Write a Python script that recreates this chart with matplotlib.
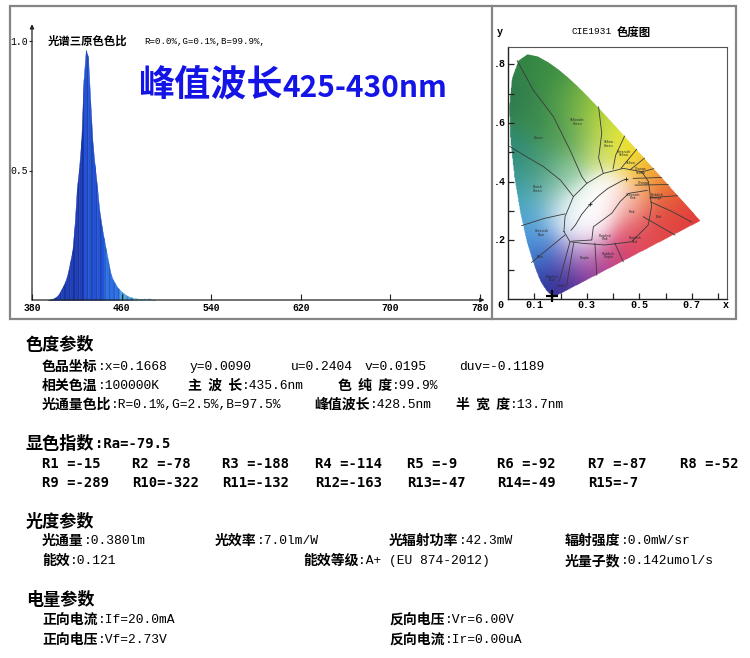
import numpy as np
import matplotlib
matplotlib.use('Agg')
import matplotlib.pyplot as plt
from matplotlib.path import Path
from matplotlib.patches import Polygon, Rectangle
from matplotlib.lines import Line2D
import matplotlib.colors as mcolors

W, H = 750, 658
CJK = ['Noto Sans CJK SC', 'DejaVu Sans']
MONO = ['Liberation Mono', 'DejaVu Sans Mono']
BMONO = ['DejaVu Sans Mono']

# ---------------- data: spectrum ----------------
wavelengths = [394, 396, 398, 400, 402, 404, 406, 408, 410, 412, 414, 416, 418, 420, 422,
               424, 426, 428, 430, 432, 434, 436, 438, 440, 442, 444, 446, 448, 450,
               452, 454, 456, 458, 460, 462, 464, 466, 468, 470, 472, 474, 476, 478,
               480, 482, 484, 486, 488, 490]
intensity = [0.0, 0.002, 0.004, 0.008, 0.014, 0.024, 0.040, 0.056, 0.076, 0.105, 0.148,
             0.190, 0.290, 0.430, 0.510, 0.620, 0.850, 0.965, 0.940, 0.770, 0.610,
             0.520, 0.440, 0.350, 0.290, 0.240, 0.195, 0.150, 0.105, 0.080, 0.065,
             0.050, 0.041, 0.032, 0.025, 0.019, 0.014, 0.011, 0.009, 0.007, 0.006,
             0.005, 0.004, 0.003, 0.003, 0.002, 0.002, 0.001, 0.0]
spec_xticks = [380, 460, 540, 620, 700, 780]
spec_yticks = [0.5, 1.0]
spec_ytick_labels = ['0.5', '1.0']
spec_title = '光谱三原色色比'
spec_ratio = 'R=0.0%,G=0.1%,B=99.9%,'
peak_note_cn = '峰值波长'
peak_note_num = '425-430nm'

# ---------------- data: CIE 1931 ----------------
locus_x = [0.1741, 0.1740, 0.1738, 0.1736, 0.1733, 0.1730, 0.1726, 0.1721, 0.1714,
           0.1703, 0.1689, 0.1669, 0.1644, 0.1611, 0.1566, 0.1510, 0.1440, 0.1355,
           0.1241, 0.1096, 0.0913, 0.0687, 0.0454, 0.0235, 0.0082, 0.0039, 0.0139,
           0.0389, 0.0743, 0.1142, 0.1547, 0.1929, 0.2296, 0.2658, 0.3016, 0.3373,
           0.3731, 0.4087, 0.4441, 0.4788, 0.5125, 0.5448, 0.5752, 0.6029, 0.6270,
           0.6482, 0.6658, 0.6801, 0.6915, 0.7006, 0.7079, 0.7140, 0.7190, 0.7230,
           0.7260, 0.7300, 0.7334, 0.7347]
locus_y = [0.0050, 0.0050, 0.0049, 0.0049, 0.0048, 0.0048, 0.0048, 0.0048, 0.0051,
           0.0058, 0.0069, 0.0086, 0.0109, 0.0138, 0.0177, 0.0227, 0.0297, 0.0399,
           0.0578, 0.0868, 0.1327, 0.2007, 0.2950, 0.4127, 0.5384, 0.6548, 0.7502,
           0.8120, 0.8338, 0.8262, 0.8059, 0.7816, 0.7543, 0.7243, 0.6923, 0.6589,
           0.6245, 0.5896, 0.5547, 0.5202, 0.4866, 0.4544, 0.4242, 0.3965, 0.3725,
           0.3514, 0.3340, 0.3197, 0.3083, 0.2993, 0.2920, 0.2859, 0.2809, 0.2770,
           0.2740, 0.2700, 0.2666, 0.2653]
point_x, point_y = 0.1668, 0.0090
planck_x = [0.2399, 0.2568, 0.2806, 0.3135, 0.3451, 0.3805, 0.4369, 0.4476]
planck_y = [0.2341, 0.2522, 0.2883, 0.3237, 0.3516, 0.3768, 0.4041, 0.4074]

cie_xtick_labels = ['0', '0.1', '0.3', '0.5', '0.7', 'x']
cie_xtick_pos = [-0.03, 0.1, 0.3, 0.5, 0.7, 0.83]
cie_ytick_labels = ['.2', '.4', '.6', '.8']
cie_ytick_pos = [0.2, 0.4, 0.6, 0.8]

# colour anchors of the chromaticity chart (x, y, colour)
anchor_x = [0.02, 0.07, 0.15, 0.10, 0.22, 0.30, 0.20, 0.28, 0.36, 0.42, 0.35, 0.47, 0.52,
            0.56, 0.60, 0.64, 0.70, 0.60, 0.55, 0.47, 0.40, 0.45, 0.50, 0.33, 0.27, 0.22,
            0.175, 0.16, 0.14, 0.10, 0.07, 0.05, 0.04, 0.02, 0.12, 0.14, 0.18, 0.23, 0.30,
            0.22, 0.30, 0.36, 0.26, 0.40, 0.33, 0.24]
anchor_y = [0.70, 0.80, 0.76, 0.62, 0.68, 0.66, 0.56, 0.56, 0.60, 0.54, 0.50, 0.50, 0.46,
            0.42, 0.385, 0.35, 0.28, 0.30, 0.25, 0.21, 0.15, 0.30, 0.35, 0.11, 0.08, 0.04,
            0.02, 0.08, 0.15, 0.20, 0.26, 0.32, 0.40, 0.50, 0.45, 0.35, 0.27, 0.15, 0.17,
            0.42, 0.30, 0.34, 0.25, 0.37, 0.26, 0.30]
anchor_c = ['#2f7a4f', '#338544', '#3f8f45', '#3a8a4f', '#55a048', '#8cc040', '#4f9a55',
            '#7ab55a', '#c8dd3a', '#e6e830', '#c5dc80', '#f2e030', '#f5c830', '#f0a030',
            '#ec7a30', '#e55535', '#e03c3c', '#e04545', '#e04848', '#e04860', '#d04078',
            '#f0a0a0', '#f5b890', '#a03590', '#7a3098', '#4a2e9a', '#2a2a8a', '#3048b0',
            '#3c70c8', '#4c8fd8', '#55a5dd', '#46a8c0', '#3a9a9a', '#2f8a75', '#4a9a70',
            '#7ab8b0', '#a8d0ec', '#9e8ad0', '#e8c8e8', '#8cc8a0', '#ffffff', '#ffffff',
            '#ffffff', '#ffffff', '#ffffff', '#f4fbf8']

# Kelly colour-region boundaries
kelly_lines = [
    [(0.035, 0.812), (0.096, 0.712), (0.173, 0.621), (0.236, 0.508), (0.281, 0.417), (0.30, 0.394)],
    [(0.006, 0.52), (0.07, 0.485), (0.135, 0.451), (0.2, 0.405), (0.249, 0.349)],
    [(0.345, 0.655), (0.357, 0.564), (0.345, 0.48), (0.363, 0.428)],
    [(0.444, 0.555), (0.41, 0.49), (0.40, 0.443)],
    [(0.49, 0.51), (0.43, 0.445)],
    [(0.52, 0.48), (0.465, 0.44)],
    [(0.555, 0.444), (0.505, 0.432)],
    [(0.585, 0.414), (0.477, 0.411)],
    [(0.61, 0.39), (0.484, 0.388)],
    [(0.645, 0.352), (0.54, 0.345)],
    [(0.70, 0.262), (0.62, 0.30), (0.545, 0.33)],
    [(0.636, 0.218), (0.515, 0.28)],
    [(0.439, 0.127), (0.407, 0.19)],
    [(0.338, 0.081), (0.331, 0.19)],
    [(0.223, 0.045), (0.25, 0.19)],
    [(0.09, 0.125), (0.217, 0.218)],
    [(0.052, 0.25), (0.14, 0.275), (0.217, 0.29)],
    [(0.195, 0.06), (0.236, 0.195)],
]
white_outer = [(0.213, 0.23), (0.217, 0.28), (0.249, 0.349), (0.30, 0.394), (0.363, 0.428),
               (0.439, 0.445), (0.509, 0.434), (0.535, 0.40), (0.547, 0.315), (0.534, 0.252),
               (0.471, 0.195), (0.369, 0.184), (0.281, 0.19), (0.236, 0.195), (0.213, 0.23)]
white_inner = [(0.243, 0.197), (0.319, 0.201), (0.325, 0.246), (0.395, 0.292), (0.427, 0.332),
               (0.46, 0.36), (0.53, 0.37)]
region_names = ['Yellowish\nGreen', 'Green', 'Yellow\nGreen', 'Greenish\nYellow', 'Yellow',
                'Orange\nYellow', 'Orange', 'Bluish\nGreen', 'Yellowish\nPink', 'Reddish\nOrange',
                'Pink', 'Red', 'Purplish\nPink', 'Purplish\nRed', 'Greenish\nBlue', 'Blue',
                'Purple', 'Reddish\nPurple', 'Purplish\nBlue', 'Violet']
region_x = [0.264, 0.116, 0.385, 0.443, 0.467, 0.505, 0.518, 0.113, 0.477, 0.566,
            0.471, 0.572, 0.369, 0.484, 0.128, 0.122, 0.291, 0.382, 0.169, 0.204]
region_y = [0.604, 0.547, 0.528, 0.496, 0.464, 0.437, 0.394, 0.375, 0.349, 0.349,
            0.295, 0.281, 0.21, 0.201, 0.224, 0.144, 0.139, 0.148, 0.07, 0.045]

# ---------------- data: report ----------------
cri_names = ['R1', 'R2', 'R3', 'R4', 'R5', 'R6', 'R7', 'R8',
             'R9', 'R10', 'R11', 'R12', 'R13', 'R14', 'R15']
cri_values = [-15, -78, -188, -114, -9, -92, -87, -52,
              -289, -322, -132, -163, -47, -49, -7]

# ---------------- figure ----------------
fig = plt.figure(figsize=(W / 100, H / 100), dpi=100)
fig.patch.set_facecolor('white')

def fx(px):
    return px / W

def fy(py):
    return 1 - py / H

# frame of the top panel
fig.patches.append(Rectangle((fx(10), fy(319)), fx(736) - fx(10), fy(6) - fy(319),
                             transform=fig.transFigure, fill=False,
                             edgecolor='#858585', lw=1.6))
fig.lines.append(Line2D([fx(492), fx(492)], [fy(6), fy(319)], transform=fig.transFigure,
                        color='#858585', lw=1.6))

# ---- spectrum ----
ax1 = fig.add_axes([fx(32), fy(300), fx(480) - fx(32), fy(41) - fy(300)])
ax1.set_xlim(380, 780)
ax1.set_ylim(0, 1.0)
for s in ax1.spines.values():
    s.set_visible(False)

def band_colour(w):
    if w < 426:
        return np.array([0.11, 0.24, 0.74])
    if w < 444:
        return np.array([0.13, 0.32, 0.86])
    if w < 458:
        return np.array([0.17, 0.44, 0.93])
    if w < 470:
        return np.array([0.30, 0.64, 0.92])
    return np.array([0.52, 0.84, 0.93])

for i in range(len(wavelengths) - 1):
    c = band_colour(wavelengths[i]) * (0.84 if i % 2 else 1.0)
    ax1.fill_between(wavelengths[i:i + 2], intensity[i:i + 2], 0,
                     color=np.clip(c, 0, 1), lw=0.3, edgecolor=np.clip(c, 0, 1))
ax1.annotate('', xy=(784, 0), xytext=(380, 0), annotation_clip=False,
             arrowprops=dict(arrowstyle='-|>', color='#222222', lw=0.9, mutation_scale=6,
                             shrinkA=0, shrinkB=0))
ax1.annotate('', xy=(380, 1.065), xytext=(380, 0), annotation_clip=False,
             arrowprops=dict(arrowstyle='-|>', color='#222222', lw=0.9, mutation_scale=6,
                             shrinkA=0, shrinkB=0))
ax1.set_xticks(spec_xticks)
ax1.set_xticklabels([str(t) for t in spec_xticks], family=MONO, fontsize=7, weight='bold')
ax1.set_yticks(spec_yticks)
ax1.set_yticklabels(spec_ytick_labels, family=MONO, fontsize=7)
ax1.tick_params(axis='x', direction='in', length=4, width=0.8, pad=2, color='#222222')
ax1.tick_params(axis='y', direction='out', length=2, width=0.8, pad=1, color='#222222')
ax1.set_facecolor('none')

fig.text(fx(48), fy(41), spec_title, family=CJK, weight='bold', fontsize=8.2,
         va='center', ha='left')
fig.text(fx(144), fy(41), spec_ratio, family=MONO, fontsize=6.6, va='center', ha='left')
t_cn = fig.text(fx(138), fy(86), peak_note_cn, family=CJK, weight='bold', fontsize=26,
                color='#1414e6', va='center', ha='left')
renderer = fig.canvas.get_renderer()
x_num = t_cn.get_window_extent(renderer).x1
fig.text(x_num / W, fy(88), peak_note_num, family=CJK, weight='bold', fontsize=21.5,
         color='#1414e6', va='center', ha='left')

# ---- CIE chart ----
XMAX, YMAX = 0.834, 0.8586
ax2 = fig.add_axes([fx(508), fy(299), fx(727) - fx(508), fy(47) - fy(299)])
ax2.set_xlim(0, XMAX)
ax2.set_ylim(0, YMAX)

nx, ny = 320, 340
gx, gy = np.meshgrid(np.linspace(0, XMAX, nx), np.linspace(0, YMAX, ny))
axa = np.array(anchor_x)
aya = np.array(anchor_y)
acol = np.array([mcolors.to_rgb(c) for c in anchor_c])
d2 = (gx[..., None] - axa) ** 2 + (gy[..., None] - aya) ** 2 + 1e-9
wts = np.exp(-d2 / (2 * 0.055 ** 2)) + 1e-10 / d2
rgb = (wts[..., None] * acol).sum(-2) / wts.sum(-1)[..., None]
locus_path = Path(np.column_stack([locus_x + [locus_x[0]], locus_y + [locus_y[0]]]))
inside = locus_path.contains_points(np.column_stack([gx.ravel(), gy.ravel()])).reshape(gx.shape)
rgba = np.dstack([rgb, inside.astype(float)])
im = ax2.imshow(rgba, extent=[0, XMAX, 0, YMAX], origin='lower', aspect='auto',
                interpolation='bilinear', zorder=1)
clip = Polygon(np.column_stack([locus_x, locus_y]), closed=True, transform=ax2.transData,
               facecolor='none', edgecolor='none')
ax2.add_patch(clip)
im.set_clip_path(clip)

for line in kelly_lines:
    xs, ys = zip(*line)
    ax2.plot(xs, ys, color='#3a3a3a', lw=0.6, zorder=3)
xs, ys = zip(*white_outer)
ax2.plot(xs, ys, color='#3a3a3a', lw=0.6, zorder=3)
xs, ys = zip(*white_inner)
ax2.plot(xs, ys, color='#3a3a3a', lw=0.6, zorder=3)
ax2.plot(planck_x, planck_y, color='#333333', lw=0.6, zorder=3)
ax2.plot([planck_x[3], planck_x[-1]], [planck_y[3], planck_y[-1]], ls='none', marker='+',
         ms=3, mew=0.6, color='#222222', zorder=4)
for n, x, y in zip(region_names, region_x, region_y):
    ax2.text(x, y, n, fontsize=2.3, ha='center', va='center', color='#2a2a2a', zorder=4,
             linespacing=0.9)
ax2.plot(point_x, point_y, marker='+', ms=8, mew=1.6, color='black', zorder=6, clip_on=False)

ax2.set_xticks(np.arange(0.1, 0.81, 0.1))
ax2.set_yticks(np.arange(0.1, 0.81, 0.1))
ax2.set_xticklabels([])
ax2.set_yticklabels([])
ax2.tick_params(direction='in', length=4, width=0.9, color='#222222')
for k, s in ax2.spines.items():
    if k in ('left', 'bottom'):
        s.set_color('#222222')
        s.set_linewidth(1.0)
    else:
        s.set_color('#555555')
        s.set_linewidth(0.8)
for lab, pos in zip(cie_xtick_labels, cie_xtick_pos):
    ax2.text(pos, -0.022, lab, transform=ax2.transData, ha='center', va='center',
             family=MONO, weight='bold', fontsize=7.2)
for lab, pos in zip(cie_ytick_labels, cie_ytick_pos):
    fig.text(fx(506), fy(299 - pos * 293.5), lab, ha='right', va='center',
             family=MONO, weight='bold', fontsize=7.2)
fig.text(fx(497), fy(32), 'y', family=MONO, weight='bold', fontsize=7.2, va='center')
fig.text(fx(572), fy(32), 'CIE1931', family=MONO, fontsize=6.8, va='center')
fig.text(fx(617), fy(32), '色度图', family=CJK, weight='bold', fontsize=8.2, va='center')

# ---- report text ----
STY = {
    'H': dict(family=CJK, weight='bold', fontsize=12.3),
    'L': dict(family=CJK, weight='bold', fontsize=10.0),
    'V': dict(family=MONO, fontsize=9.4),
    'R': dict(family=BMONO, weight='bold', fontsize=10),
}

def chain(px, py, pieces):
    x = px
    for s, st in pieces:
        t = fig.text(x / W, fy(py), s, ha='left', va='center', **STY[st])
        x = t.get_window_extent(renderer).x1

chain(26, 345, [('色度参数', 'H')])
chain(42, 367, [('色品坐标', 'L'), (':x=0.1668', 'V')])
chain(190, 367, [('y=0.0090', 'V')])
chain(291, 367, [('u=0.2404', 'V')])
chain(365, 367, [('v=0.0195', 'V')])
chain(459, 367, [('duv=-0.1189', 'V')])
chain(42, 386, [('相关色温', 'L'), (':100000K', 'V')])
chain(188, 386, [('主  波  长', 'L'), (':435.6nm', 'V')])
chain(338, 386, [('色  纯  度', 'L'), (':99.9%', 'V')])
chain(42, 405, [('光通量色比', 'L'), (':R=0.1%,G=2.5%,B=97.5%', 'V')])
chain(314, 405, [('峰值波长', 'L'), (':428.5nm', 'V')])
chain(456, 405, [('半  宽  度', 'L'), (':13.7nm', 'V')])

chain(26, 444, [('显色指数', 'H'), (':Ra=-79.5', 'R')])
cri_x = [42, 132, 222, 315, 407, 497, 588, 680]
for i, (n, v) in enumerate(zip(cri_names, cri_values)):
    row, col = divmod(i, 8)
    chain(cri_x[col], 464 + row * 19, [(f'{n:<3}={v}', 'R')])

chain(26, 522, [('光度参数', 'H')])
chain(42, 541, [('光通量', 'L'), (':0.380lm', 'V')])
chain(215, 541, [('光效率', 'L'), (':7.0lm/W', 'V')])
chain(389, 541, [('光辐射功率', 'L'), (':42.3mW', 'V')])
chain(565, 541, [('辐射强度', 'L'), (':0.0mW/sr', 'V')])
chain(42, 561, [('能效', 'L'), (':0.121', 'V')])
chain(303, 561, [('能效等级', 'L'), (':A+ (EU 874-2012)', 'V')])
chain(565, 561, [('光量子数', 'L'), (':0.142umol/s', 'V')])

chain(26, 600, [('电量参数', 'H')])
chain(42, 620, [('正向电流', 'L'), (':If=20.0mA', 'V')])
chain(389, 620, [('反向电压', 'L'), (':Vr=6.00V', 'V')])
chain(42, 640, [('正向电压', 'L'), (':Vf=2.73V', 'V')])
chain(389, 640, [('反向电流', 'L'), (':Ir=0.00uA', 'V')])

fig.savefig('out.png', dpi=100)
